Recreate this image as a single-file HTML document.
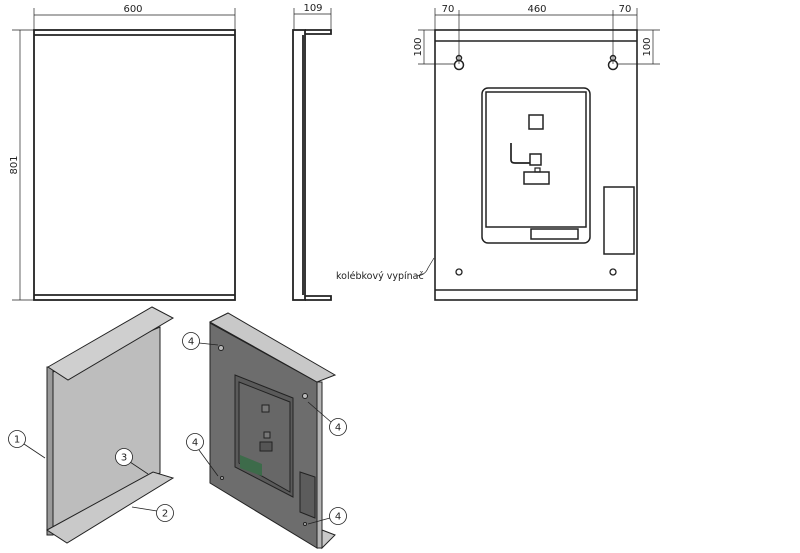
<!DOCTYPE html>
<html><head><meta charset="utf-8"><style>
html,body{margin:0;padding:0;background:#fff}
svg{display:block}
text{font-family:"DejaVu Sans","Liberation Sans",sans-serif;font-size:10px;fill:#222}
</style></head><body>
<svg width="800" height="553" viewBox="0 0 800 553" xmlns="http://www.w3.org/2000/svg">
<g stroke="#222" fill="none" stroke-width="0.7">
<!-- FRONT VIEW -->
<line x1="34" y1="8" x2="34" y2="30"/><line x1="235" y1="8" x2="235" y2="30"/>
<line x1="34" y1="15" x2="235" y2="15"/>
<line x1="12" y1="30" x2="34" y2="30"/><line x1="12" y1="300" x2="34" y2="300"/>
<line x1="20" y1="30" x2="20" y2="300"/>
<rect x="34" y="30" width="201" height="270" stroke-width="1.8"/>
<line x1="34" y1="35" x2="235" y2="35" stroke-width="1.8"/>
<line x1="34" y1="295" x2="235" y2="295" stroke-width="1.8"/>
<!-- SIDE VIEW -->
<line x1="294" y1="8" x2="294" y2="30"/><line x1="331" y1="8" x2="331" y2="30"/>
<line x1="294" y1="14" x2="331" y2="14"/>
<rect x="293" y="30" width="12" height="270" stroke-width="1.8"/>
<line x1="303" y1="35" x2="303" y2="295" stroke-width="1.8"/>
<path d="M305 30 H331 V34 H305 M305 296 H331 V300 H305" stroke-width="1.8"/>
<!-- BACK VIEW -->
<line x1="435" y1="8" x2="435" y2="30"/><line x1="459" y1="10" x2="459" y2="64"/>
<line x1="613" y1="10" x2="613" y2="64"/><line x1="637" y1="8" x2="637" y2="30"/>
<line x1="435" y1="15" x2="637" y2="15"/>
<line x1="418" y1="30" x2="435" y2="30"/><line x1="418" y1="64" x2="455" y2="64"/>
<line x1="424" y1="30" x2="424" y2="64"/>
<line x1="637" y1="30" x2="660" y2="30"/><line x1="617" y1="64" x2="660" y2="64"/>
<line x1="653" y1="30" x2="653" y2="64"/>
<rect x="435" y="30" width="202" height="270" stroke-width="1.6"/>
<line x1="435" y1="41" x2="637" y2="41" stroke-width="1.6"/>
<line x1="435" y1="290" x2="637" y2="290" stroke-width="1.6"/>
<circle cx="459" cy="65" r="4.5" stroke-width="1.5"/><circle cx="459" cy="58" r="2.5" stroke-width="1.5"/>
<circle cx="613" cy="65" r="4.5" stroke-width="1.5"/><circle cx="613" cy="58" r="2.5" stroke-width="1.5"/>
<rect x="482" y="88" width="108" height="155" rx="6" stroke-width="1.5"/>
<rect x="486" y="92" width="100" height="135" stroke-width="1.5"/>
<rect x="531" y="229" width="47" height="10" stroke-width="1.5"/>
<rect x="529" y="115" width="14" height="14" stroke-width="1.5"/>
<rect x="530" y="154" width="11" height="11" stroke-width="1.5"/>
<path d="M511 143 V160 Q511 163 515 163 H530" stroke-width="1.7"/>
<rect x="524" y="172" width="25" height="12" stroke-width="1.5"/>
<rect x="535" y="168" width="5" height="4" stroke-width="1.2"/>
<rect x="604" y="187" width="30" height="67" stroke-width="1.5"/>
<circle cx="459" cy="272" r="3" stroke-width="1.3"/><circle cx="613" cy="272" r="3" stroke-width="1.3"/>
<path d="M415 276 Q425 276 428 268 L434 258"/>
</g>
<text x="133" y="12" text-anchor="middle">600</text>
<text x="313" y="11" text-anchor="middle">109</text>
<text transform="translate(17,165) rotate(-90)" text-anchor="middle">801</text>
<text x="448" y="12" text-anchor="middle">70</text>
<text x="537" y="12" text-anchor="middle">460</text>
<text x="625" y="12" text-anchor="middle">70</text>
<text transform="translate(421,47) rotate(-90)" text-anchor="middle">100</text>
<text transform="translate(650,47) rotate(-90)" text-anchor="middle">100</text>
<text x="336" y="279" style="font-size:9.5px">kolébkový vypínač</text>

<!-- ISO LEFT -->
<g stroke="#222" stroke-width="1">
<polygon points="53,372 160,327 160,473 53,530" fill="#bdbdbd"/>
<polygon points="47,367 53,367 53,535 47,535" fill="#9a9a9a"/>
<polygon points="47,530 153,472 173,478 67,543" fill="#c9c9c9"/>
<polygon points="48,367 152,307 173,318 68,380" fill="#cfcfcf"/>
</g>
<!-- ISO RIGHT -->
<g stroke="#222" stroke-width="1">
<polygon points="210,323 317,382 317,548 210,483" fill="#6d6d6d"/>
<polygon points="235,375 293,398 293,497 235,467" fill="#5a5a5a"/>
<polygon points="239,382 290,402 290,492 239,463" fill="#676767"/>
<polygon points="240,455 262,464 262,476 240,468" fill="#3d6b4a" stroke="none"/>
<polygon points="300,472 315,477 315,518 300,512" fill="#5c5c5c"/>
<polygon points="317,382 322,382 322,548 317,548" fill="#b5b5b5"/>
<polygon points="322,530 335,535 322,548" fill="#c9c9c9"/>
<polygon points="210,322 228,313 335,375 317,382" fill="#c8c8c8"/>
<rect x="262" y="405" width="7" height="7" fill="#777"/>
<rect x="264" y="432" width="6" height="6" fill="#777"/>
<rect x="260" y="442" width="12" height="9" fill="#555"/>
<circle cx="221" cy="348" r="2.5" fill="#bbb"/><circle cx="305" cy="396" r="2.5" fill="#bbb"/>
<circle cx="222" cy="478" r="1.5" fill="#bbb"/><circle cx="305" cy="524" r="1.5" fill="#bbb"/>
</g>
<!-- callouts -->
<g stroke="#222" stroke-width="0.8" fill="#fff">
<line x1="24" y1="444" x2="45" y2="458"/><circle cx="17" cy="439" r="8.5"/>
<line x1="130" y1="462" x2="148" y2="474"/><circle cx="124" cy="457" r="8.5"/>
<line x1="157" y1="511" x2="132" y2="507"/><circle cx="165" cy="513" r="8.5"/>
<line x1="199" y1="343" x2="218" y2="345"/><circle cx="191" cy="341" r="8.5"/>
<line x1="331" y1="422" x2="308" y2="402"/><circle cx="338" cy="427" r="8.5"/>
<line x1="199" y1="450" x2="218" y2="476"/><circle cx="195" cy="442" r="8.5"/>
<line x1="330" y1="518" x2="308" y2="524"/><circle cx="338" cy="516" r="8.5"/>
</g>
<g style="font-size:9px" text-anchor="middle">
<text x="17" y="442.5">1</text><text x="124" y="460.5">3</text><text x="165" y="516.5">2</text>
<text x="191" y="344.5">4</text><text x="338" y="430.5">4</text><text x="195" y="445.5">4</text><text x="338" y="519.5">4</text>
</g>
</svg>
</body></html>
